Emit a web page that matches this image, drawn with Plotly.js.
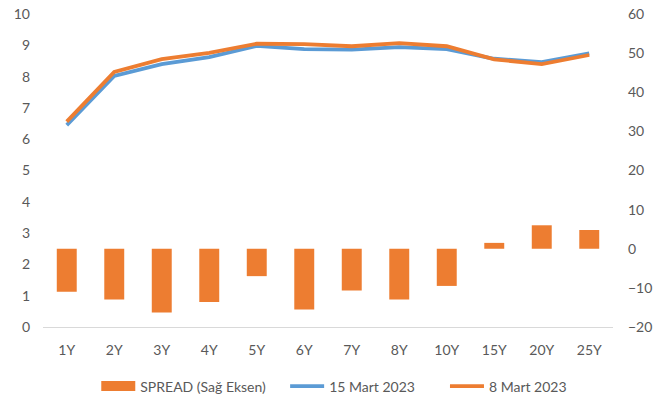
<!DOCTYPE html>
<html>
<head>
<meta charset="utf-8">
<script src="https://cdn.plot.ly/plotly-3.0.1.min.js"></script>
<style>html,body{margin:0;padding:0;background:#fff;}#chart{width:665px;height:400px;}</style>
</head>
<body>
<div id="chart"></div>
<script>
var categories = ["1Y","2Y","3Y","4Y","5Y","6Y","7Y","8Y","10Y","15Y","20Y","25Y"];
var mart15 = [6.45, 8.02, 8.40, 8.62, 8.98, 8.88, 8.86, 8.94, 8.88, 8.57, 8.46, 8.74];
var mart8  = [6.56, 8.15, 8.56, 8.76, 9.05, 9.04, 8.97, 9.07, 8.97, 8.55, 8.40, 8.69];
var spread = [-11, -13, -16.3, -13.6, -7, -15.5, -10.7, -13, -9.5, 1.5, 6, 4.8];

var orange = "#ED7D31", blue = "#5B9BD5", txt = "#595959";
var fnt = {family: "Lato, 'Liberation Sans', sans-serif", size: 14, color: txt};
var pad4 = "\u00A0\u00A0\u00A0\u00A0";
var pad7 = "\u00A0\u00A0\u00A0\u00A0\u00A0\u00A0\u00A0";

var traces = [
  {type: "bar", x: categories, y: spread, yaxis: "y2", name: "SPREAD (Sağ Eksen)",
   marker: {color: orange}, width: 0.42, showlegend: false},
  {type: "scatter", mode: "lines", x: [null], y: [null], name: "SPREAD (Sağ Eksen)" + pad4,
   line: {color: orange, width: 10}, hoverinfo: "skip"},
  {type: "scatter", mode: "lines", x: categories, y: mart15, name: "15 Mart 2023" + pad7,
   line: {color: blue, width: 3.8}},
  {type: "scatter", mode: "lines", x: categories, y: mart8, name: "8 Mart 2023",
   line: {color: orange, width: 3.8}}
];

var layout = {
  width: 665, height: 400,
  margin: {l: 43, r: 52, t: 14, b: 73, autoexpand: false},
  paper_bgcolor: "#fff", plot_bgcolor: "#fff",
  font: fnt,
  showlegend: true,
  legend: {orientation: "h", x: 0.511, xanchor: "center", y: -0.19, yanchor: "middle",
           font: fnt, itemwidth: 34, traceorder: "normal"},
  xaxis: {type: "category", showgrid: false, showline: true, linecolor: "#d9d9d9", linewidth: 1,
          ticks: "", tickfont: fnt, ticklabelstandoff: 10, zeroline: false},
  yaxis: {range: [0, 10], dtick: 1, showgrid: false, zeroline: false, showline: false,
          ticks: "", tickfont: fnt, ticklabelstandoff: 12},
  yaxis2: {range: [-20, 60], dtick: 10, overlaying: "y", side: "right", showgrid: false,
           zeroline: false, showline: false, ticks: "", tickfont: fnt, ticklabelstandoff: 14}
};

Plotly.newPlot("chart", traces, layout, {displayModeBar: false, staticPlot: true});
</script>
</body>
</html>
